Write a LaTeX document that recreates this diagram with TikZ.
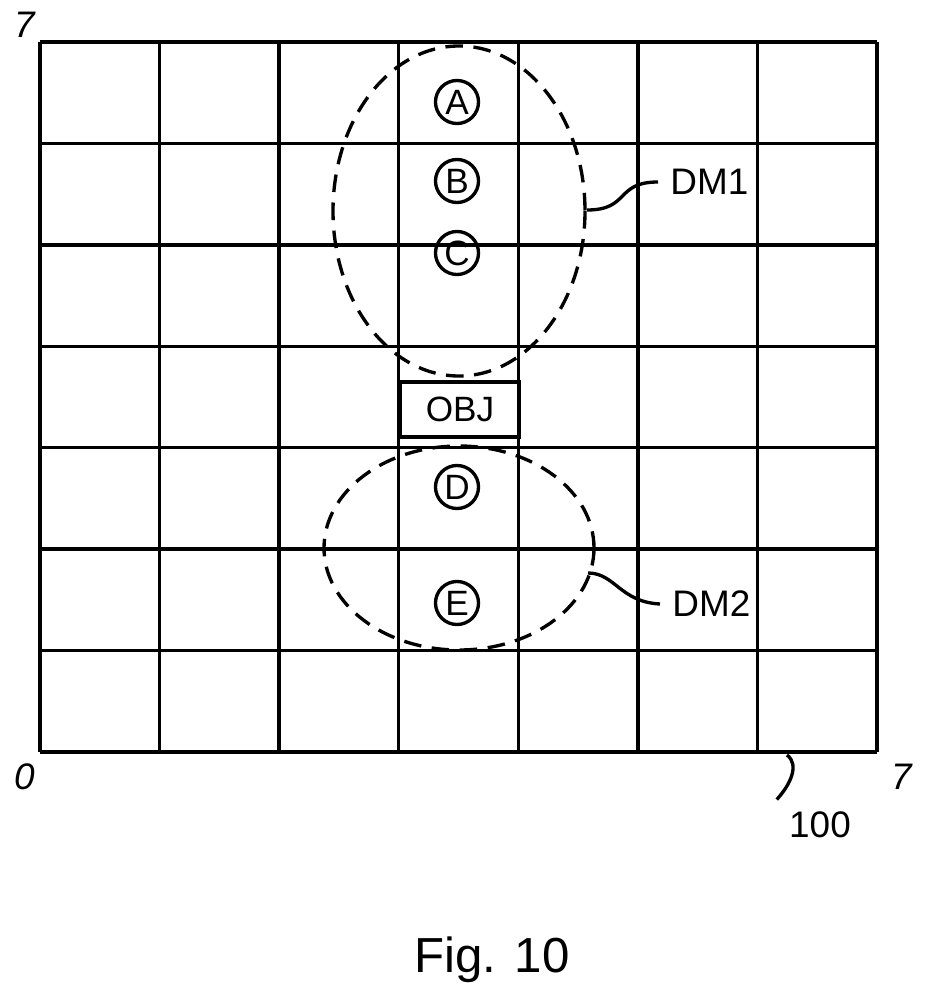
\documentclass[tikz,border=0pt]{standalone}
\usepackage{fontspec}
\setmainfont{Liberation Sans}
\usetikzlibrary{positioning}

\begin{document}
\begin{tikzpicture}[
    x=0.01cm, y=-0.01cm,
    % Grid style
    gridline/.style={line width=0.95pt, black},
    % Position marker style
    marker/.style={
        circle,
        draw,
        line width=0.95pt,
        minimum size=0.43cm,
        inner sep=0pt,
        font=\fontsize{10}{11}\selectfont
    },
    % Object box style
    objbox/.style={
        rectangle,
        draw,
        line width=0.95pt,
        minimum width=1.19cm,
        minimum height=0.55cm,
        font=\fontsize{10}{11}\selectfont
    },
    % Dashed zone style
    zone/.style={line width=0.95pt, dash pattern=on 5pt off 3pt},
    % Reference label style
    reflabel/.style={font=\fontsize{10.5}{12}\selectfont},
    axislabel/.style={font=\fontsize{10.5}{12}\selectfont\itshape},
    leader/.style={line width=0.95pt}
]
\useasboundingbox (0,0) rectangle (931,994);

% ============================================
% GRID
% ============================================
\foreach \gx in {40,159.6,279.1,398.7,518.3,637.9,757.4,877}
    \draw[gridline] (\gx,42) -- (\gx,752);
\foreach \gy in {42,143.4,244.9,346.3,447.7,549.1,650.6,752}
    \draw[gridline] (40,\gy) -- (877,\gy);

\node[axislabel] (ymax) at (25,25) {7};
\node[axislabel] (orig) at (25,777) {0};
\node[axislabel] (xmax) at (902,777) {7};

% ============================================
% POSITIONS AND OBJECT
% ============================================
\node[marker] (posA) at (457,102) {A};
\node[marker] (posB) at (457,181) {B};
\node[marker] (posC) at (457,253) {C};
\node[objbox] (obj) at (460,409.5) {OBJ};
\node[marker] (posD) at (457,487) {D};
\node[marker] (posE) at (457,603) {E};

% ============================================
% ZONES
% ============================================
\draw[zone] (459,211) ellipse [x radius=126, y radius=165];
\draw[zone] (459,548) ellipse [x radius=135, y radius=102];

\coordinate (dmOneEnd) at (587,210);
\coordinate (dmTwoEnd) at (588,573);
\coordinate (gridEnd) at (787,755);

\node[reflabel, anchor=west] (dmOne) at (658,182) {DM1};
\node[reflabel, anchor=west] (dmTwo) at (660,604) {DM2};
\node[reflabel] (grid) at (820,825) {100};

\draw[leader] (dmOneEnd) .. controls (630,210) and (615,182) .. (dmOne.west);
\draw[leader] (dmTwoEnd) .. controls (615,573) and (620,602) .. (dmTwo.west);
\draw[leader] (gridEnd) .. controls (800,765) and (790,785) .. (grid.north west);

% ============================================
% CAPTION
% ============================================
\node[font=\fontsize{14}{16}\selectfont] (caption) at (492,960) {Fig. 10};

\end{tikzpicture}
\end{document}
